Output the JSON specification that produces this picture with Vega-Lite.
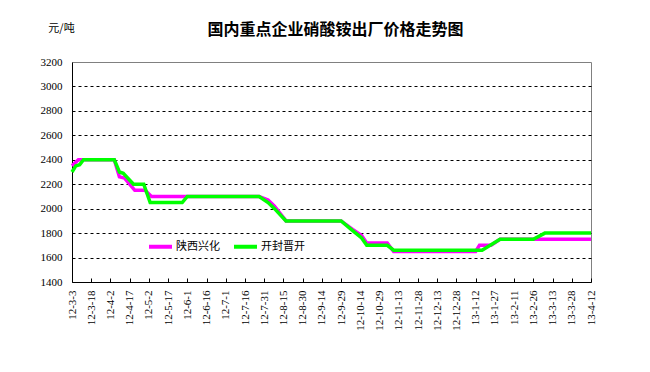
{
  "$schema": "https://vega.github.io/schema/vega-lite/v6.json",
  "width": 519,
  "height": 220,
  "autosize": "none",
  "padding": {"left": 72, "top": 62, "right": 59, "bottom": 90},
  "background": "white",
  "title": {
    "text": "国内重点企业硝酸铵出厂价格走势图",
    "font": "Noto Sans CJK SC",
    "fontSize": 16,
    "fontWeight": "bold",
    "color": "black",
    "anchor": "middle",
    "baseline": "bottom",
    "offset": -32,
    "dx": 4
  },
  "config": {
    "view": {"stroke": "#808080", "strokeWidth": 1},
    "axis": {"labelColor": "black", "domainColor": "black", "tickColor": "black"}
  },
  "data": {
    "values": [
      {"d": "2012/03/03", "s": "陕西兴化", "v": 2350},
      {"d": "2012/03/08", "s": "陕西兴化", "v": 2400},
      {"d": "2012/04/05", "s": "陕西兴化", "v": 2400},
      {"d": "2012/04/09", "s": "陕西兴化", "v": 2260},
      {"d": "2012/04/13", "s": "陕西兴化", "v": 2250},
      {"d": "2012/04/21", "s": "陕西兴化", "v": 2150},
      {"d": "2012/04/29", "s": "陕西兴化", "v": 2150},
      {"d": "2012/05/04", "s": "陕西兴化", "v": 2100},
      {"d": "2012/07/27", "s": "陕西兴化", "v": 2100},
      {"d": "2012/08/03", "s": "陕西兴化", "v": 2070},
      {"d": "2012/08/08", "s": "陕西兴化", "v": 2020},
      {"d": "2012/08/17", "s": "陕西兴化", "v": 1900},
      {"d": "2012/09/29", "s": "陕西兴化", "v": 1900},
      {"d": "2012/10/08", "s": "陕西兴化", "v": 1830},
      {"d": "2012/10/15", "s": "陕西兴化", "v": 1780},
      {"d": "2012/10/19", "s": "陕西兴化", "v": 1720},
      {"d": "2012/11/04", "s": "陕西兴化", "v": 1720},
      {"d": "2012/11/09", "s": "陕西兴化", "v": 1650},
      {"d": "2013/01/12", "s": "陕西兴化", "v": 1650},
      {"d": "2013/01/15", "s": "陕西兴化", "v": 1700},
      {"d": "2013/01/24", "s": "陕西兴化", "v": 1700},
      {"d": "2013/01/31", "s": "陕西兴化", "v": 1750},
      {"d": "2013/04/12", "s": "陕西兴化", "v": 1750},
      {"d": "2012/03/03", "s": "开封晋开", "v": 2300},
      {"d": "2012/03/06", "s": "开封晋开", "v": 2350},
      {"d": "2012/03/09", "s": "开封晋开", "v": 2360},
      {"d": "2012/03/12", "s": "开封晋开", "v": 2400},
      {"d": "2012/04/05", "s": "开封晋开", "v": 2400},
      {"d": "2012/04/09", "s": "开封晋开", "v": 2300},
      {"d": "2012/04/12", "s": "开封晋开", "v": 2290},
      {"d": "2012/04/20", "s": "开封晋开", "v": 2200},
      {"d": "2012/04/28", "s": "开封晋开", "v": 2200},
      {"d": "2012/05/03", "s": "开封晋开", "v": 2050},
      {"d": "2012/05/28", "s": "开封晋开", "v": 2050},
      {"d": "2012/06/01", "s": "开封晋开", "v": 2100},
      {"d": "2012/07/27", "s": "开封晋开", "v": 2100},
      {"d": "2012/08/03", "s": "开封晋开", "v": 2050},
      {"d": "2012/08/08", "s": "开封晋开", "v": 2000},
      {"d": "2012/08/17", "s": "开封晋开", "v": 1900},
      {"d": "2012/09/29", "s": "开封晋开", "v": 1900},
      {"d": "2012/10/08", "s": "开封晋开", "v": 1820},
      {"d": "2012/10/15", "s": "开封晋开", "v": 1760},
      {"d": "2012/10/19", "s": "开封晋开", "v": 1700},
      {"d": "2012/11/04", "s": "开封晋开", "v": 1700},
      {"d": "2012/11/09", "s": "开封晋开", "v": 1660},
      {"d": "2013/01/17", "s": "开封晋开", "v": 1660},
      {"d": "2013/01/31", "s": "开封晋开", "v": 1750},
      {"d": "2013/02/26", "s": "开封晋开", "v": 1750},
      {"d": "2013/03/07", "s": "开封晋开", "v": 1800},
      {"d": "2013/04/12", "s": "开封晋开", "v": 1800}
    ]
  },
  "mark": {"type": "line", "strokeWidth": 3.5, "clip": false},
  "encoding": {
    "x": {
      "field": "d",
      "type": "temporal",
      "scale": {
        "domain": [{"year": 2012, "month": 3, "date": 3}, {"year": 2013, "month": 4, "date": 12}],
        "nice": false
      },
      "axis": {
        "title": null,
        "format": "%y-%-m-%-d",
        "values": [
          {"year": 2012, "month": 3, "date": 3},
          {"year": 2012, "month": 3, "date": 18},
          {"year": 2012, "month": 4, "date": 2},
          {"year": 2012, "month": 4, "date": 17},
          {"year": 2012, "month": 5, "date": 2},
          {"year": 2012, "month": 5, "date": 17},
          {"year": 2012, "month": 6, "date": 1},
          {"year": 2012, "month": 6, "date": 16},
          {"year": 2012, "month": 7, "date": 1},
          {"year": 2012, "month": 7, "date": 16},
          {"year": 2012, "month": 7, "date": 31},
          {"year": 2012, "month": 8, "date": 15},
          {"year": 2012, "month": 8, "date": 30},
          {"year": 2012, "month": 9, "date": 14},
          {"year": 2012, "month": 9, "date": 29},
          {"year": 2012, "month": 10, "date": 14},
          {"year": 2012, "month": 10, "date": 29},
          {"year": 2012, "month": 11, "date": 13},
          {"year": 2012, "month": 11, "date": 28},
          {"year": 2012, "month": 12, "date": 13},
          {"year": 2012, "month": 12, "date": 28},
          {"year": 2013, "month": 1, "date": 12},
          {"year": 2013, "month": 1, "date": 27},
          {"year": 2013, "month": 2, "date": 11},
          {"year": 2013, "month": 2, "date": 26},
          {"year": 2013, "month": 3, "date": 13},
          {"year": 2013, "month": 3, "date": 28},
          {"year": 2013, "month": 4, "date": 12}
        ],
        "labelAngle": -90,
        "labelFont": "Liberation Serif",
        "labelFontSize": 11,
        "labelPadding": 12,
        "labelOverlap": false,
        "labelFlush": false,
        "tickSize": -4,
        "grid": false,
        "domainWidth": 1
      }
    },
    "y": {
      "field": "v",
      "type": "quantitative",
      "scale": {"domain": [1400, 3200], "nice": false, "zero": false},
      "axis": {
        "title": "元/吨",
        "titleAngle": 0,
        "titleX": -11,
        "titleY": -34,
        "titleAlign": "center",
        "titleBaseline": "middle",
        "titleFont": "Noto Sans CJK SC",
        "titleFontSize": 11,
        "titleFontWeight": "normal",
        "titleColor": "black",
        "values": [1400, 1600, 1800, 2000, 2200, 2400, 2600, 2800, 3000, 3200],
        "format": "d",
        "ticks": false,
        "labelPadding": 10,
        "labelFont": "Liberation Serif",
        "labelFontSize": 11,
        "grid": true,
        "gridColor": "black",
        "gridDash": [3, 3],
        "gridWidth": 1,
        "gridOpacity": {"condition": {"test": "datum.value == 1400 || datum.value == 3200", "value": 0}, "value": 1}
      }
    },
    "color": {
      "field": "s",
      "type": "nominal",
      "sort": ["陕西兴化", "开封晋开"],
      "scale": {"domain": ["陕西兴化", "开封晋开"], "range": ["#FF00FF", "#00FF00"]},
      "legend": {
        "title": null,
        "orient": "none",
        "legendX": 75,
        "legendY": 171,
        "direction": "horizontal",
        "symbolType": "stroke",
        "symbolStrokeWidth": 4,
        "symbolSize": 529,
        "labelFont": "Noto Sans CJK SC",
        "labelFontSize": 11,
        "labelColor": "black",
        "labelOffset": 2,
        "columnPadding": 6,
        "padding": 0
      }
    }
  }
}
